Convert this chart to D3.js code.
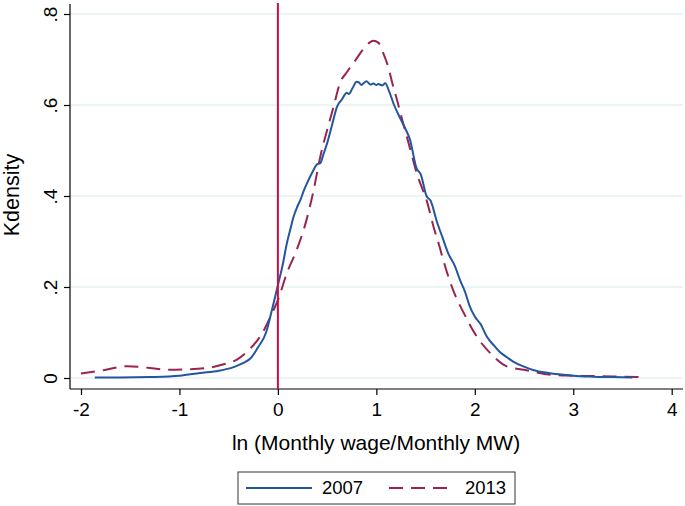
<!DOCTYPE html>
<html><head><meta charset="utf-8">
<script src="https://cdn.jsdelivr.net/npm/d3@7"></script>
<style>body{margin:0;background:#fff}svg{display:block;font-family:Arial,"Liberation Sans",sans-serif}</style>
</head><body><svg id="c" width="685" height="506"></svg>
<script>
const xTicks = [-2,-1,0,1,2,3,4];
const xTickLabels = ["-2","-1","0","1","2","3","4"];
const yTicks = [0,0.2,0.4,0.6,0.8];
const yTickLabels = ["0",".2",".4",".6",".8"];
const xTitle = "ln (Monthly wage/Monthly MW)";
const yTitle = "Kdensity";
const seriesNames = ["2007","2013"];

const x2007 = [-1.86,-1.6,-1.3,-1.0,-0.79,-0.6,-0.45,-0.35,-0.27,-0.2,-0.12,-0.06,0,0.05,0.09,0.13,0.16,0.2,0.23,0.26,0.3,0.35,0.4,0.43,0.46,0.5,0.55,0.6,0.65,0.7,0.72,0.76,0.8,0.82,0.85,0.87,0.9,0.94,0.97,1.0,1.02,1.06,1.09,1.13,1.18,1.24,1.29,1.34,1.41,1.45,1.51,1.55,1.62,1.67,1.73,1.8,1.85,1.9,1.95,2.0,2.06,2.12,2.2,2.26,2.33,2.39,2.5,2.6,2.75,2.9,3.0,3.2,3.4,3.6];
const y2007 = [0.001,0.001,0.002,0.005,0.011,0.016,0.024,0.033,0.045,0.068,0.1,0.15,0.204,0.25,0.295,0.33,0.355,0.378,0.392,0.41,0.43,0.452,0.47,0.472,0.49,0.516,0.556,0.596,0.612,0.627,0.624,0.638,0.651,0.65,0.644,0.648,0.652,0.645,0.647,0.644,0.646,0.643,0.648,0.63,0.6,0.572,0.55,0.525,0.46,0.448,0.4,0.39,0.34,0.31,0.274,0.245,0.215,0.19,0.157,0.135,0.118,0.092,0.07,0.056,0.045,0.036,0.025,0.017,0.011,0.007,0.005,0.003,0.002,0.001];

const x2013 = [-2.0,-1.8,-1.53,-1.3,-1.13,-0.9,-0.69,-0.52,-0.42,-0.28,-0.16,-0.06,0,0.09,0.19,0.29,0.36,0.43,0.5,0.565,0.63,0.7,0.79,0.85,0.89,0.93,0.97,1.02,1.07,1.12,1.16,1.21,1.26,1.31,1.36,1.41,1.46,1.51,1.58,1.64,1.68,1.78,1.89,2.02,2.16,2.33,2.5,2.77,3.0,3.3,3.5,3.73];
const y2013 = [0.01,0.016,0.026,0.022,0.018,0.019,0.023,0.032,0.04,0.065,0.098,0.142,0.171,0.23,0.281,0.347,0.41,0.486,0.545,0.596,0.648,0.672,0.699,0.718,0.728,0.737,0.741,0.737,0.714,0.684,0.65,0.611,0.57,0.53,0.49,0.45,0.42,0.391,0.333,0.29,0.259,0.193,0.142,0.091,0.054,0.025,0.018,0.007,0.005,0.004,0.003,0.002];

const svg = d3.select("#c");
const xS = d3.scaleLinear().domain([-2,4]).range([81,671.7]);
const yS = d3.scaleLinear().domain([0,0.8]).range([378,14]);
const pL = 70, pR = 683, pB = 389, pT = 4;

// gridlines
svg.append("g").selectAll("line").data(yTicks).join("line")
  .attr("x1",pL).attr("x2",pR).attr("y1",d=>yS(d)).attr("y2",d=>yS(d))
  .attr("stroke","#e4f3ef").attr("stroke-width",1.5);

// axes
const yAx = svg.append("g").attr("transform",`translate(${pL},0)`)
  .call(d3.axisLeft(yS).tickValues(yTicks).tickSize(6).tickFormat((d,i)=>yTickLabels[i]));
yAx.select(".domain").remove();
yAx.append("line").attr("x1",0).attr("x2",0).attr("y1",pT).attr("y2",pB).attr("stroke","#000").attr("stroke-width",1.2);
yAx.selectAll(".tick line").attr("stroke","#000").attr("stroke-width",1.2);
yAx.selectAll(".tick text").attr("font-size",19).attr("fill","#000")
  .attr("text-anchor","middle").attr("x",null).attr("dy",null)
  .attr("transform","translate(-13,0) rotate(-90)");

const xAx = svg.append("g").attr("transform",`translate(0,${pB})`)
  .call(d3.axisBottom(xS).tickValues(xTicks).tickSize(6).tickFormat((d,i)=>xTickLabels[i]));
xAx.select(".domain").remove();
xAx.append("line").attr("x1",pL).attr("x2",pR).attr("y1",0).attr("y2",0).attr("stroke","#000").attr("stroke-width",1.2);
xAx.selectAll(".tick line").attr("stroke","#000").attr("stroke-width",1.2);
xAx.selectAll(".tick text").attr("font-size",19).attr("fill","#000").attr("y",27).attr("dy",null);

// titles
svg.append("text").attr("x",376).attr("y",450).attr("text-anchor","middle").attr("font-size",21).text(xTitle);
svg.append("text").attr("transform","translate(19,195) rotate(-90)").attr("text-anchor","middle").attr("font-size",21.5).text(yTitle);

// curves
const line = d3.line().x(d=>xS(d[0])).y(d=>yS(d[1])).curve(d3.curveMonotoneX);
const blue = "#24559f", maroon = "#992450";
svg.append("path").datum(d3.zip(x2013,y2013)).attr("d",line).attr("fill","none")
  .attr("stroke",maroon).attr("stroke-width",2).attr("stroke-dasharray","14,8");
svg.append("path").datum(d3.zip(x2007,y2007)).attr("d",line).attr("fill","none")
  .attr("stroke",blue).attr("stroke-width",2);

// vertical line at 0
svg.append("line").attr("x1",xS(0)).attr("x2",xS(0)).attr("y1",3).attr("y2",pB)
  .attr("stroke","#cc0e47").attr("stroke-width",2);

// legend
const lg = svg.append("g");
lg.append("rect").attr("x",238).attr("y",472).attr("width",277).attr("height",32).attr("fill","#fff").attr("stroke","#333").attr("stroke-width",1);
lg.append("line").attr("x1",246).attr("x2",312).attr("y1",488).attr("y2",488).attr("stroke",blue).attr("stroke-width",2);
lg.append("text").attr("x",322).attr("y",494).attr("font-size",18.5).text(seriesNames[0]);
lg.append("line").attr("x1",389).attr("x2",455).attr("y1",488).attr("y2",488).attr("stroke",maroon).attr("stroke-width",2).attr("stroke-dasharray","14,8");
lg.append("text").attr("x",465).attr("y",494).attr("font-size",18.5).text(seriesNames[1]);
</script></body></html>
